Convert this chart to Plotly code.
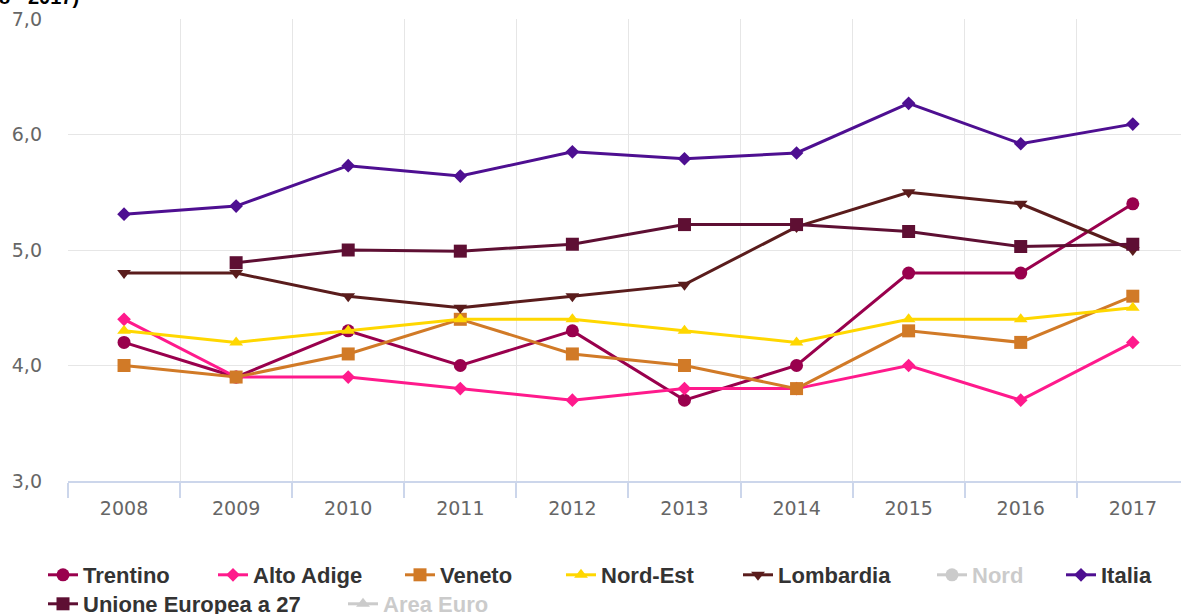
import plotly.graph_objects as go

years = ["2008", "2009", "2010", "2011", "2012", "2013", "2014", "2015", "2016", "2017"]

trentino = [4.2, 3.9, 4.3, 4.0, 4.3, 3.7, 4.0, 4.8, 4.8, 5.4]
alto_adige = [4.4, 3.9, 3.9, 3.8, 3.7, 3.8, 3.8, 4.0, 3.7, 4.2]
veneto = [4.0, 3.9, 4.1, 4.4, 4.1, 4.0, 3.8, 4.3, 4.2, 4.6]
nord_est = [4.3, 4.2, 4.3, 4.4, 4.4, 4.3, 4.2, 4.4, 4.4, 4.5]
lombardia = [4.8, 4.8, 4.6, 4.5, 4.6, 4.7, 5.2, 5.5, 5.4, 5.0]
nord = [None] * 10  # hidden series, values not visible
italia = [5.31, 5.38, 5.73, 5.64, 5.85, 5.79, 5.84, 6.27, 5.92, 6.09]
ue27 = [None, 4.89, 5.0, 4.99, 5.05, 5.22, 5.22, 5.16, 5.03, 5.05]
area_euro = [None] * 10  # hidden series, values not visible

y_ticks = [3.0, 4.0, 5.0, 6.0, 7.0]
title_text = "(2008 - 2017)"

W, H = 1181, 614

# name, values, colour, symbol, visible, legend text-start px, legend row centre px
series = [
    ("Trentino", trentino, "#99004d", "circle", True, 83, 575),
    ("Alto Adige", alto_adige, "#ff1a8c", "diamond", True, 253, 575),
    ("Veneto", veneto, "#d17a27", "square", True, 440, 575),
    ("Nord-Est", nord_est, "#ffd700", "triangle-up", True, 601, 575),
    ("Lombardia", lombardia, "#5a1c1c", "triangle-down", True, 778, 575),
    ("Nord", nord, "#999999", "circle", False, 972, 575),
    ("Italia", italia, "#4e0f91", "diamond", True, 1101, 575),
    ("Unione Europea a 27", ue27, "#5e0f33", "square", True, 83, 604),
    ("Area Euro", area_euro, "#999999", "triangle-up", False, 383, 604),
]

xs = list(range(len(years)))
sizes = {"circle": 13, "diamond": 10.5, "square": 13, "triangle-up": 12, "triangle-down": 12}

fig = go.Figure()
legend_layouts = {}
for i, (name, vals, color, symbol, visible, tx, ty) in enumerate(series):
    lname = "legend" if i == 0 else f"legend{i + 1}"
    fig.add_trace(go.Scatter(
        x=xs, y=vals, name=name, mode="lines+markers",
        line=dict(color=color, width=3),
        marker=dict(symbol=symbol, size=sizes[symbol], color=color),
        visible=True if visible else "legendonly",
        connectgaps=False, legend=lname, showlegend=True,
    ))
    legend_layouts[lname] = dict(
        xref="container", yref="container",
        x=(tx - 40) / W, y=1 - ty / H, xanchor="left", yanchor="middle",
        orientation="h", bgcolor="rgba(0,0,0,0)", borderwidth=0,
        font=dict(family="Liberation Sans", size=22,
                  color="#333333" if visible else "#999999", weight="bold"),
        itemwidth=30,
    )

# plot area in page px: left 68, top 19, bottom 481, right 1181 (range cropped at right)
L, T, B = 68, 19, 481
plot_h = B - T
plot_w = W - L

fig.add_annotation(
    text=f"<b>{title_text}</b>", xref="paper", yref="paper",
    x=(81 - L) / plot_w, y=1 + (T - 10) / plot_h, xanchor="right", yanchor="bottom",
    showarrow=False, font=dict(size=20, color="#000000", family="Liberation Sans"),
)

fig.update_layout(
    width=W, height=H,
    margin=dict(l=L, r=0, t=T, b=H - B, autoexpand=False),
    paper_bgcolor="white", plot_bgcolor="white",
    separators=",.",
    showlegend=True,
    font=dict(family="DejaVu Sans", color="#666666"),
    **legend_layouts,
)

fig.update_xaxes(
    range=[-0.5, 9.43], tickmode="array", tickvals=xs, ticktext=years,
    showgrid=False, ticks="", tickfont=dict(size=19, color="#666666", family="DejaVu Sans"),
    ticklabelstandoff=9, ticklabeloverflow="allow",
    showline=True, linecolor="#ccd6eb", linewidth=2,
    minor=dict(tickmode="array", tickvals=[i - 0.5 for i in range(10)],
               showgrid=True, gridcolor="#e6e6e6", gridwidth=1,
               ticks="outside", ticklen=15, tickcolor="#ccd6eb", tickwidth=2),
    zeroline=False, fixedrange=True,
)
fig.update_yaxes(
    range=[3.0, 7.0], tickmode="array", tickvals=y_ticks, tickformat=".1f",
    showgrid=True, gridcolor="#e6e6e6", gridwidth=1, zeroline=False,
    tickfont=dict(size=19, color="#666666", family="DejaVu Sans"), ticks="",
    ticklabelstandoff=25, ticklabeloverflow="allow", fixedrange=True,
)

fig.write_html("out.html", config={"displayModeBar": False},
               post_script="document.body.style.margin='0px';")
